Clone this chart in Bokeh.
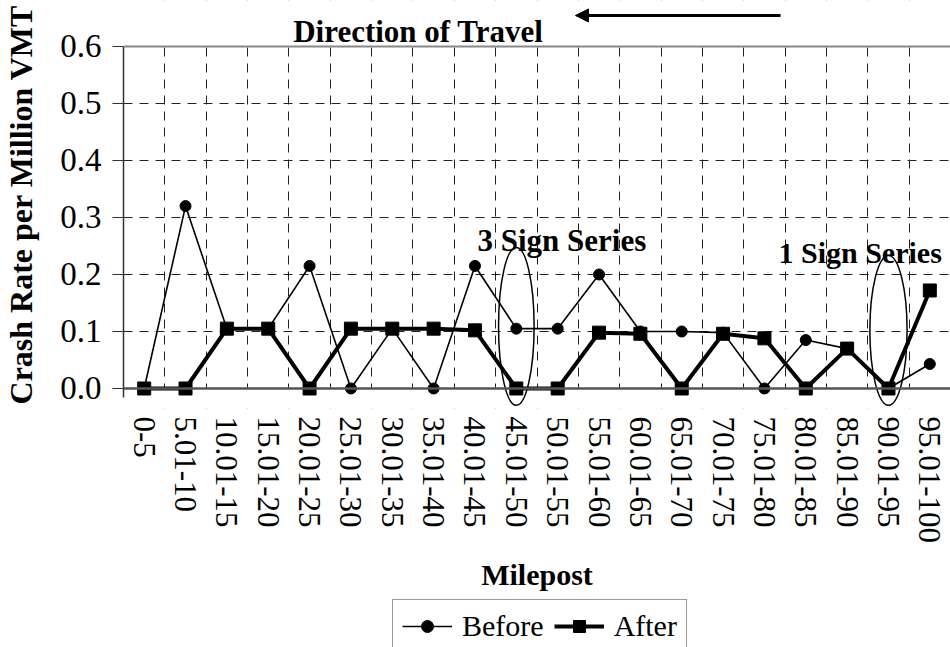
import numpy as np
from bokeh.plotting import figure
from bokeh.layouts import column
from bokeh.models import (Range1d, FixedTicker, NumeralTickFormatter, Span, Label,
                          Arrow, NormalHead, Legend, LegendItem, BoxAnnotation, ColumnDataSource)
from bokeh.embed import file_html
from bokeh.resources import INLINE

# ---- data ----
mileposts = ["0-5", "5.01-10", "10.01-15", "15.01-20", "20.01-25", "25.01-30",
             "30.01-35", "35.01-40", "40.01-45", "45.01-50", "50.01-55", "55.01-60",
             "60.01-65", "65.01-70", "70.01-75", "75.01-80", "80.01-85", "85.01-90",
             "90.01-95", "95.01-100"]
before = [0.0, 0.32, 0.105, 0.105, 0.215, 0.0, 0.105, 0.0, 0.215, 0.105,
          0.105, 0.20, 0.10, 0.10, 0.098, 0.0, 0.085, 0.07, 0.0, 0.043]
after = [0.0, 0.0, 0.105, 0.105, 0.0, 0.105, 0.105, 0.105, 0.102, 0.0,
         0.0, 0.098, 0.096, 0.0, 0.096, 0.088, 0.0, 0.07, 0.0, 0.172]
y_ticks = [0.0, 0.1, 0.2, 0.3, 0.4, 0.5, 0.6]
note_texts = ["3 Sign Series", "1 Sign Series"]
note_cats = ["45.01-50", "90.01-95"]
title_text = "Direction of Travel"
series_names = ["Before", "After"]

FONT = "Liberation Serif"

pos = np.arange(len(mileposts)) + 0.5
bounds = list(range(len(mileposts) + 1))

src = ColumnDataSource(dict(x=pos, before=before, after=after, cat=mileposts))

p = figure(width=950, height=597, x_range=Range1d(0, len(mileposts)),
           y_range=Range1d(-0.0351, 0.6807),
           output_backend="svg", toolbar_location=None,
           min_border_left=123, min_border_right=0, min_border_top=0,
           min_border_bottom=189)
p.outline_line_color = None
p.background_fill_color = "white"

# grids
p.xgrid.ticker = FixedTicker(ticks=bounds[1:])
p.ygrid.ticker = FixedTicker(ticks=y_ticks[1:-1])
for g in (p.xgrid, p.ygrid):
    g.grid_line_color = "#222222"
    g.grid_line_dash = "9 7"
    g.grid_line_width = 1

# cover grid outside 0..0.6
p.add_layout(BoxAnnotation(top=y_ticks[0], fill_color="white", fill_alpha=1.0,
                           line_color=None, level="underlay"))
p.add_layout(BoxAnnotation(bottom=y_ticks[-1], fill_color="white", fill_alpha=1.0,
                           line_color=None, level="underlay"))

# x axis
p.xaxis.ticker = FixedTicker(ticks=list(pos))
p.xaxis.major_label_overrides = {float(x): c for x, c in zip(pos, mileposts)}
p.xaxis.major_label_orientation = "vertical"
p.xaxis.axis_line_color = None
p.xaxis.major_tick_line_color = None
p.xaxis.major_tick_in = 0
p.xaxis.major_tick_out = 0
p.xaxis.minor_tick_line_color = None
p.xaxis.major_label_standoff = 8
p.xaxis.major_label_text_font = FONT
p.xaxis.major_label_text_font_size = "31px"
p.xaxis.major_label_text_color = "black"
p.xaxis.axis_label = "Milepost"
p.xaxis.axis_label_text_font = FONT
p.xaxis.axis_label_text_font_style = "bold"
p.xaxis.axis_label_text_font_size = "30px"
p.xaxis.axis_label_text_color = "black"
p.xaxis.axis_label_standoff = 12

# y axis
p.yaxis.ticker = FixedTicker(ticks=y_ticks)
p.yaxis.formatter = NumeralTickFormatter(format="0.0")
p.yaxis.bounds = (-0.016, y_ticks[-1])
p.yaxis.axis_line_color = "#333333"
p.yaxis.axis_line_width = 1.5
p.yaxis.major_tick_in = 0
p.yaxis.major_tick_out = 11
p.yaxis.major_tick_line_color = "#333333"
p.yaxis.minor_tick_line_color = None
p.yaxis.major_label_standoff = 11
p.yaxis.major_label_text_font = FONT
p.yaxis.major_label_text_font_size = "33px"
p.yaxis.major_label_text_color = "black"
p.yaxis.axis_label = "Crash Rate per Million VMT"
p.yaxis.axis_label_text_font = FONT
p.yaxis.axis_label_text_font_style = "bold"
p.yaxis.axis_label_text_font_size = "32px"
p.yaxis.axis_label_text_color = "black"
p.yaxis.axis_label_standoff = 18

# top border & zero line
p.add_layout(Span(location=y_ticks[-1], dimension="width", line_color="#888888", line_width=2))
p.add_layout(Span(location=y_ticks[0], dimension="width", line_color="#555555", line_width=2.5))

# ellipses around sign series
ell_x = [mileposts.index(c) + 0.5 for c in note_cats]
p.ellipse(x=ell_x, y=[0.109, 0.102], width=[0.86, 0.9],
          height=[0.277, 0.263], fill_color=None, line_color="black", line_width=1.5)

# series
def draw_series(fig):
    lb = fig.line("x", "before", source=src, line_color="black", line_width=1.6)
    sb = fig.scatter("x", "before", source=src, marker="circle", size=11,
                     fill_color="black", line_color="black")
    la = fig.line("x", "after", source=src, line_color="black", line_width=4)
    sa = fig.scatter("x", "after", source=src, marker="square", size=13,
                     fill_color="black", line_color="black")
    return (lb, sb), (la, sa)

draw_series(p)

# annotation text
p.add_layout(Label(x=8.56, y=0.2596, text=note_texts[0], text_font=FONT,
                   text_font_style="bold", text_font_size="31px", text_align="left",
                   text_baseline="alphabetic", text_color="black"))
p.add_layout(Label(x=15.84, y=0.2386, text=note_texts[1], text_font=FONT,
                   text_font_style="bold", text_font_size="30px", text_align="left",
                   text_baseline="alphabetic", text_color="black"))

# direction of travel
p.add_layout(Label(x=7.13, y=0.6263, text=title_text, text_font=FONT,
                   text_font_style="bold", text_font_size="31px", text_align="center",
                   text_baseline="alphabetic", text_color="black"))
p.add_layout(Arrow(end=NormalHead(size=13, fill_color="black", line_color="black"),
                   x_start=15.89, y_start=0.6544, x_end=10.93, y_end=0.6544,
                   line_width=3, line_color="black"))

# ---- legend strip (same series, view placed away from the data) ----
lg = figure(width=950, height=50, x_range=Range1d(-10, -9), y_range=Range1d(-10, -9),
            output_backend="svg", toolbar_location=None,
            x_axis_type=None, y_axis_type=None,
            min_border_left=0, min_border_right=0, min_border_top=0, min_border_bottom=0)
lg.outline_line_color = None
lg.xgrid.visible = False
lg.ygrid.visible = False
(lb2, sb2), (la2, sa2) = draw_series(lg)

legend = Legend(items=[LegendItem(label=series_names[0], renderers=[lb2, sb2]),
                       LegendItem(label=series_names[1], renderers=[la2, sa2])],
                orientation="horizontal", location=(269, -6),
                label_text_font=FONT, label_text_font_size="30px",
                label_text_color="black", glyph_width=50, glyph_height=30,
                label_height=30, spacing=10, padding=9, margin=0,
                border_line_color="#333333", border_line_width=1.5,
                background_fill_alpha=1.0, label_standoff=10)
lg.add_layout(legend)

layout = column(p, lg, spacing=0)
open("out.html", "w").write(file_html(layout, INLINE))
